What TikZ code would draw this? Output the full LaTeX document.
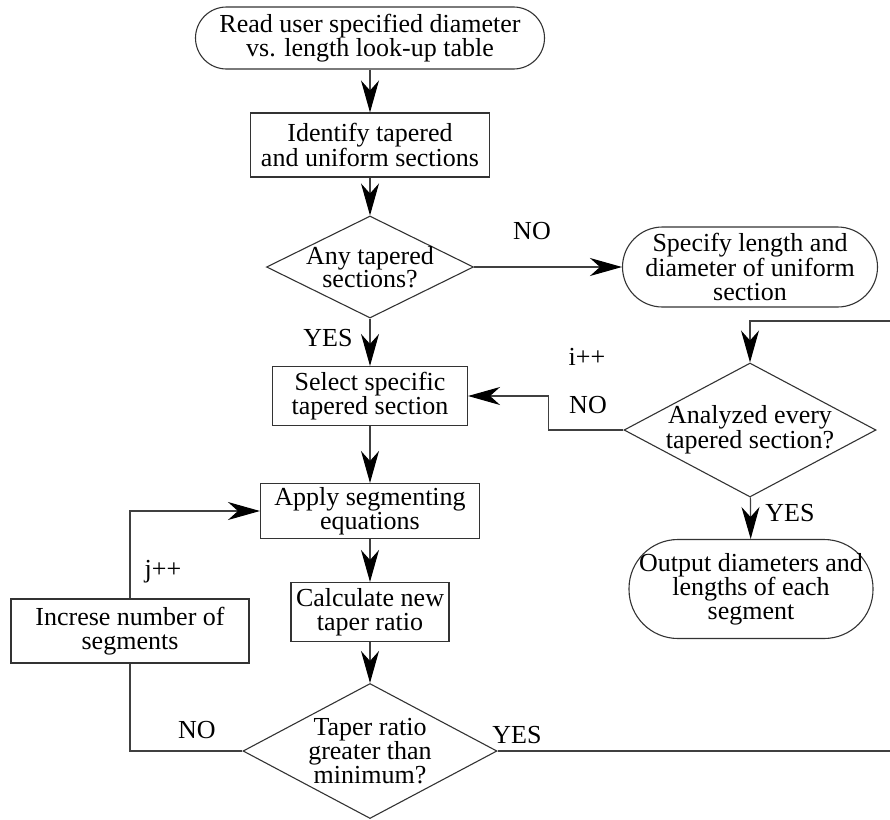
\documentclass[tikz,border=0pt]{standalone}
\usepackage{fontspec}
\setmainfont{Liberation Serif}
\usetikzlibrary{shapes.geometric,arrows.meta}
\begin{document}
\begin{tikzpicture}[x=1pt,y=-1pt,
  every node/.style={font=\fontsize{26}{23.5}\selectfont, align=center, inner sep=0pt},
  outline/.style={draw=black!80, line width=1.1pt},
  procbox/.style={rectangle, outline},
  termbox/.style={rectangle, rounded corners=#1, outline},
  decbox/.style={diamond, outline},
  link/.style={draw=black!75, line width=1.1pt},
  flow/.style={link, -{Stealth[length=32pt,width=18pt,inset=10pt,color=black]}}
]
\useasboundingbox (0,0) rectangle (890,819);

% main column
\node[termbox=31pt, minimum width=349pt, minimum height=62pt] (read) at (370,38)
  {Read user specified diameter\\vs. length look-up table};
\node[procbox, minimum width=239pt, minimum height=64pt] (ident) at (370,145)
  {Identify tapered\\and uniform sections};
\node[decbox, minimum width=207pt, minimum height=102pt,
  label=center:{Any tapered\\sections?}] (anytap) at (370,267) {};
\node[procbox, minimum width=195pt, minimum height=59pt] (select) at (370,396)
  {Select specific\\tapered section};
\node[procbox, minimum width=219pt, minimum height=55pt] (apply) at (370,511)
  {Apply segmenting\\equations};
\node[procbox, minimum width=158pt, minimum height=59pt] (calc) at (370,612)
  {Calculate new\\taper ratio};
\node[decbox, minimum width=254pt, minimum height=135pt,
  label=center:{Taper ratio\\greater than\\minimum?}] (taper) at (370,751) {};

% right column
\node[termbox=40pt, minimum width=255pt, minimum height=80pt] (specify) at (750,267)
  {Specify length and\\diameter of uniform\\section};
\node[decbox, minimum width=252pt, minimum height=134pt,
  label=center:{Analyzed every\\tapered section?}] (analyzed) at (750,430) {};
\node[termbox=49pt, minimum width=244pt, minimum height=99pt] (output) at (751,589)
  {Output diameters and\\lengths of each\\segment};

% left column
\node[procbox, minimum width=238pt, minimum height=64pt] (incr) at (130,631)
  {Increse number of\\segments};

% branch labels
\node (noA) at (532,231) {NO};
\node (yesA) at (328,338) {YES};
\node (iinc) at (587,357) {i++};
\node (noB) at (588,405) {NO};
\node (yesB) at (790,513) {YES};
\node (jinc) at (163,572) {j++};
\node (noC) at (197,730) {NO};
\node (yesC) at (517,735) {YES};

% loop-back points along the right rim
\coordinate (rimlow) at (898,751);
\coordinate (rimhigh) at (898,321);

% connectors
\draw[flow] (read) -- (ident);
\draw[flow] (ident) -- (anytap);
\draw[flow] (anytap) -- (specify);
\draw[flow] (anytap) -- (select);
\draw[flow] (select) -- (apply);
\draw[flow] (apply) -- (calc);
\draw[flow] (calc) -- (taper);
\draw[flow] (analyzed) -- (output);
\draw[flow] (analyzed.west) -- ++(-75,0) |- (select.east);
\draw[link] (taper.west) -| (incr.south);
\draw[flow] (incr.north) |- (apply.west);
\draw[flow] (taper.east) -- (rimlow) -- (rimhigh) -| (analyzed.north);
\end{tikzpicture}
\end{document}
